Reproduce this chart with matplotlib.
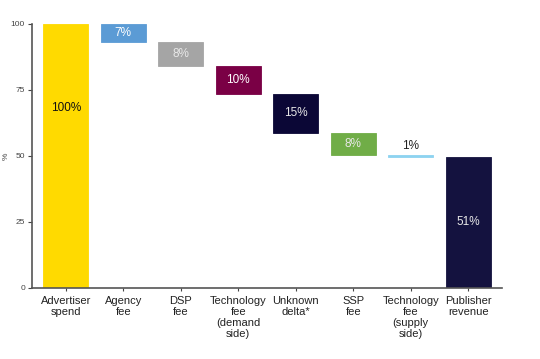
import matplotlib
matplotlib.use("Agg")
import matplotlib.pyplot as plt

categories = ["Advertiser\nspend", "Agency\nfee", "DSP\nfee", "Technology\nfee\n(demand\nside)",
              "Unknown\ndelta*", "SSP\nfee", "Technology\nfee\n(supply\nside)", "Publisher\nrevenue"]
start_total = 100.0
fees = [7.0, 9.0, 10.5, 14.8, 8.5, 0.5]
publisher = 49.8
bar_labels = ["100%", "7%", "8%", "10%", "15%", "8%", "1%", "51%"]
colors = ["#FFDA00", "#5B9BD5", "#A5A5A5", "#7A0045", "#0B0736", "#70AD47", "#8DD3F0", "#14123F"]
label_colors = ["#111111", "white", "#E8E8E8", "white", "#E8E8E8", "#E8E8E8", "#222222", "#E8E8E8"]

plt.rcParams['font.family'] = ['Liberation Sans', 'DejaVu Sans']

fig = plt.figure(figsize=(5.4, 3.59), dpi=100)
ax = fig.add_axes([32/540, 1-288/359, (502-32)/540, (288-24)/359])

heights = [start_total]
bottoms = [0.0]
level = start_total
for f in fees:
    level -= f
    heights.append(f)
    bottoms.append(level)
heights.append(publisher)
bottoms.append(0.0)

x = list(range(len(categories)))
w = 0.78
ax.bar(x, heights, bottom=bottoms, width=w, color=colors, edgecolor=colors, linewidth=0.6)

for i, (h, b, lab, lc) in enumerate(zip(heights, bottoms, bar_labels, label_colors)):
    if i == 0:
        y = 68
        va = "center"
    elif i == 6:
        y = b + h + 1.5
        va = "bottom"
    else:
        y = b + h / 2
        va = "center"
    ax.text(i, y, lab, ha="center", va=va, color=lc, fontsize=8.5)

ax.set_xlim(-0.59, 7.59)
ax.set_ylim(0, 100)
ax.set_yticks([0, 25, 50, 75, 100])
ax.set_xticks(x)
ax.set_xticklabels(categories, fontsize=8, linespacing=1.1, color="#222222")
ax.tick_params(axis="y", labelsize=6, length=3, width=0.8, colors="#444444", pad=2)
ax.tick_params(axis="x", length=2, width=0.8, colors="#444444", pad=4)
for lbl in ax.get_xticklabels():
    lbl.set_color("#222222")
for s in ["top", "right"]:
    ax.spines[s].set_visible(False)
for s in ["left", "bottom"]:
    ax.spines[s].set_color("#555555")
    ax.spines[s].set_linewidth(1.2)
fig.text(6/540, 1-156/359, "%", rotation=90, fontsize=6, color="#444444", ha="center", va="center")

fig.savefig("out.png", dpi=100)
